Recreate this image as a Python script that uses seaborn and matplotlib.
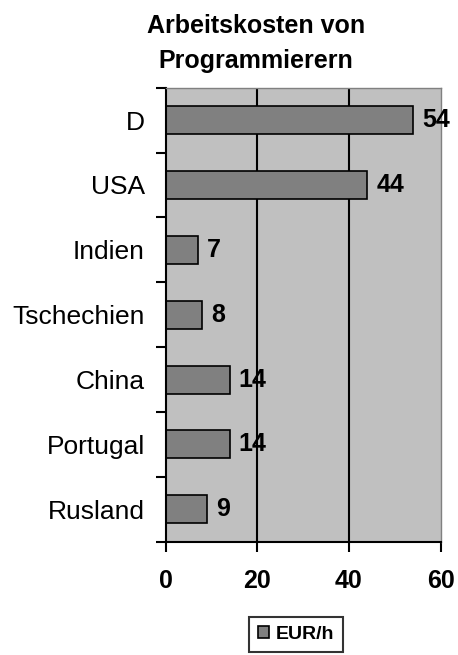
import matplotlib
matplotlib.use("Agg")
import matplotlib.pyplot as plt
import seaborn as sns
import pandas as pd
import numpy as np

categories = ["D", "USA", "Indien", "Tschechien", "China", "Portugal", "Rusland"]
values = [54, 44, 7, 8, 14, 14, 9]
x_ticks = [0, 20, 40, 60]
series_name = "EUR/h"
title_lines = ["Arbeitskosten von", "Programmierern"]

sns.set_theme(style="white")
plt.rcParams["font.family"] = ["Liberation Sans", "DejaVu Sans"]
plt.rcParams["text.color"] = "black"
plt.rcParams["xtick.color"] = "black"
plt.rcParams["ytick.color"] = "black"
plt.rcParams["axes.labelcolor"] = "black"

df = pd.DataFrame({"Land": categories, series_name: values})

fig = plt.figure(figsize=(4.58, 6.55), dpi=100)
ax = fig.add_axes([165.5 / 458, 1 - 541.7 / 655, 275.0 / 458, 454.0 / 655])
ax.set_facecolor("#C0C0C0")

sns.barplot(data=df, x=series_name, y="Land", orient="h", color="#808080",
            saturation=1, edgecolor="black", linewidth=1.2, width=0.43, ax=ax)

ax.set_xlim(0, 60)
ax.set_xticks(x_ticks)
ax.set_xticklabels([str(t) for t in x_ticks], fontsize=18, fontweight="bold", color="black")
ax.set_xlabel("")
ax.set_ylabel("")

# y labels at category centres, tick marks at category boundaries
ax.set_yticks(range(len(categories)))
ax.set_yticklabels(categories, fontsize=19, color="black")
ax.set_yticks(np.arange(-0.5, len(categories), 1.0), minor=True)
ax.tick_params(axis="y", which="major", length=0, pad=15)
ax.tick_params(axis="y", which="minor", length=7, width=1.5, direction="out", color="black", left=True)
ax.tick_params(axis="x", which="major", length=7, width=1.5, direction="out", color="black", pad=13, bottom=True)

# gridlines
ax.set_axisbelow(True)
ax.xaxis.grid(True, color="black", linewidth=1.5)
ax.yaxis.grid(False)
glines = ax.get_xgridlines()
glines[0].set_visible(False)
glines[-1].set_visible(False)

for side in ["left", "bottom"]:
    ax.spines[side].set_color("black")
    ax.spines[side].set_linewidth(1.5)
for side in ["top", "right"]:
    ax.spines[side].set_color("#808080")
    ax.spines[side].set_linewidth(1.0)

ax.bar_label(ax.containers[0], labels=[str(v) for v in values], padding=6.5,
             fontsize=18, fontweight="bold", color="black")

# title
fig.text(256 / 458, 1 - 33 / 655, title_lines[0], ha="center", va="baseline",
         fontsize=18, fontweight="bold", color="black")
fig.text(256 / 458, 1 - 68 / 655, title_lines[1], ha="center", va="baseline",
         fontsize=18, fontweight="bold", color="black")

# legend
leg = fig.legend(handles=[ax.patches[0]], labels=[series_name], loc="upper center",
                 bbox_to_anchor=(296 / 458, 1 - 617 / 655), frameon=True, fancybox=False,
                 shadow=False, prop={"weight": "bold", "size": 14},
                 handlelength=0.6, handleheight=0.6, handletextpad=0.35,
                 borderpad=0.45, borderaxespad=0)
leg.get_frame().set_edgecolor("black")
leg.get_frame().set_linewidth(1.5)
leg.get_frame().set_facecolor("white")
for t in leg.get_texts():
    t.set_color("black")

fig.savefig("out.png", dpi=100)
